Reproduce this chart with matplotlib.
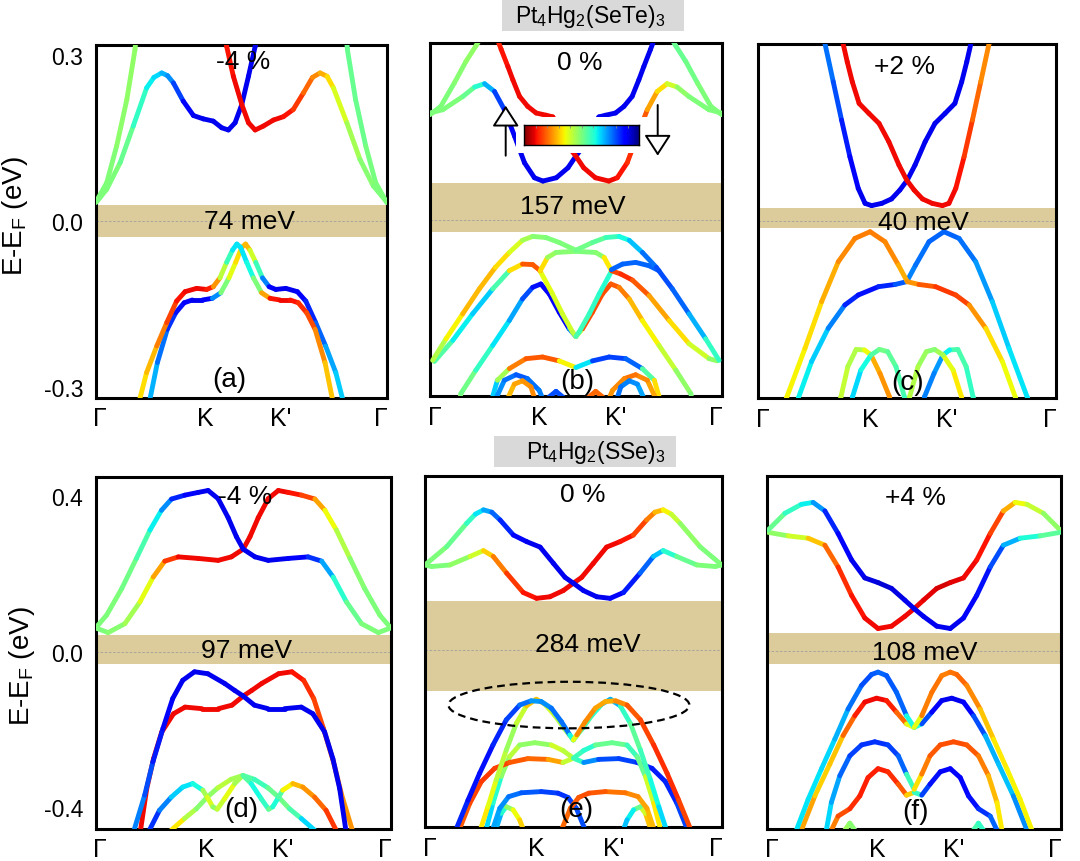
"""Spin-resolved band structures of Pt4Hg2(SeTe)3 and Pt4Hg2(SSe)3 under strain."""

import matplotlib

matplotlib.use("Agg")

import matplotlib.pyplot as plt
import numpy as np
from matplotlib.collections import LineCollection
from matplotlib.colors import Normalize
from matplotlib.patches import Ellipse, FancyArrowPatch, Rectangle

# ---------------------------------------------------------------------------
# data: each band is a list of (k along path, E - E_F [eV], spin polarisation)
# k runs 0 (Gamma) -> 1 (Gamma); spin +1 = up (red), -1 = down (blue)
# ---------------------------------------------------------------------------
KLABELS = ["\u0393", "K", "K'", "\u0393"]
COMPOUNDS = ["Pt$_4$Hg$_2$(SeTe)$_3$", "Pt$_4$Hg$_2$(SSe)$_3$"]
STRAIN = ["-4 %", "0 %", "+2 %", "-4 %", "0 %", "+4 %"]
TAGS = ["(a)", "(b)", "(c)", "(d)", "(e)", "(f)"]
GAP_MEV = [74, 157, 40, 97, 284, 108]
GAP_WIN = [(-0.029, 0.029), (-0.022, 0.066), (-0.012, 0.023),
           (-0.031, 0.042), (-0.106, 0.127), (-0.033, 0.047)]

# ---- (a) SeTe, -4 % ----
A_CB_DN = [(0.003, 0.035, 0.0), (0.038, 0.058, 0.0), (0.084, 0.106, 0.0), (0.129, 0.172, -0.1),
           (0.175, 0.241, -0.25), (0.200, 0.260, -0.3), (0.227, 0.268, -0.35), (0.247, 0.263, -0.45),
           (0.267, 0.250, -0.5), (0.301, 0.217, -0.75),
           (0.336, 0.191, -0.8), (0.370, 0.185, -0.8), (0.404, 0.181, -0.8), (0.433, 0.169, -0.8),
           (0.456, 0.165, -0.8), (0.479, 0.178, -0.8), (0.502, 0.211, -0.8), (0.525, 0.262, -0.8),
           (0.548, 0.316, -0.8), (0.559, 0.346, -0.8)]
A_CB_UP = [(0.440, 0.346, 0.75), (0.450, 0.316, 0.75), (0.473, 0.262, 0.8), (0.502, 0.211, 0.8),
           (0.525, 0.178, 0.8), (0.548, 0.165, 0.8), (0.576, 0.172, 0.8), (0.611, 0.183, 0.8),
           (0.645, 0.189, 0.8), (0.679, 0.202, 0.75), (0.714, 0.232, 0.65), (0.745, 0.260, 0.55),
           (0.771, 0.268, 0.5), (0.795, 0.262, 0.4),
           (0.817, 0.241, 0.3), (0.863, 0.178, 0.15), (0.908, 0.112, 0.05), (0.954, 0.064, 0.0),
           (1.0, 0.035, 0.0)]
A_CB_OUT_L = [(0.0, 0.034, 0.0), (0.038, 0.070, 0.0), (0.072, 0.136, 0.03), (0.107, 0.220, 0.05),
              (0.135, 0.310, 0.05), (0.141, 0.346, 0.05)]
A_CB_OUT_R = [(0.859, 0.346, -0.05), (0.865, 0.310, -0.05), (0.893, 0.220, -0.05),
              (0.928, 0.136, -0.03), (0.962, 0.070, 0.0), (1.0, 0.034, 0.0)]
A_VB_1 = [(0.147, -0.330, 0.35), (0.175, -0.273, 0.35), (0.210, -0.225, 0.5), (0.244, -0.183, 0.6),
          (0.278, -0.144, 0.75), (0.307, -0.127, 0.8), (0.347, -0.121, 0.8), (0.381, -0.123, 0.8),
          (0.404, -0.118, 0.7), (0.427, -0.102, 0.3), (0.450, -0.074, 0.0), (0.470, -0.052, -0.3),
          (0.485, -0.041, -0.3), (0.498, -0.047, -0.3), (0.519, -0.074, -0.3), (0.542, -0.102, -0.2),
          (0.570, -0.129, 0.2), (0.599, -0.139, 0.75), (0.633, -0.142, 0.8), (0.668, -0.142, 0.8),
          (0.696, -0.147, 0.75), (0.725, -0.165, 0.7), (0.754, -0.195, 0.6), (0.788, -0.255, 0.45),
          (0.817, -0.330, 0.35)]
A_VB_2 = [(0.183, -0.330, -0.35), (0.212, -0.255, -0.45), (0.246, -0.195, -0.6), (0.275, -0.165, -0.7),
          (0.304, -0.147, -0.75), (0.332, -0.142, -0.8), (0.367, -0.142, -0.8), (0.401, -0.139, -0.75),
          (0.430, -0.129, -0.2), (0.458, -0.102, 0.2), (0.481, -0.074, 0.3), (0.502, -0.047, 0.4),
          (0.515, -0.041, 0.45), (0.530, -0.052, 0.4), (0.550, -0.074, 0.0), (0.573, -0.102, -0.3),
          (0.596, -0.118, -0.7), (0.619, -0.123, -0.8), (0.653, -0.121, -0.8), (0.693, -0.127, -0.8),
          (0.722, -0.144, -0.75), (0.756, -0.183, -0.6), (0.790, -0.225, -0.5), (0.825, -0.273, -0.35),
          (0.853, -0.330, -0.35)]

# ---- (b) SeTe, 0 % ----
B_CB_DN = [(0.0, 0.193, 0.0), (0.044, 0.199, 0.0), (0.113, 0.223, 0.0), (0.153, 0.240, -0.1),
           (0.187, 0.246, -0.3), (0.221, 0.232, -0.5), (0.255, 0.199, -0.75), (0.290, 0.151, -0.8),
           (0.324, 0.103, -0.8), (0.358, 0.076, -0.8), (0.387, 0.070, -0.8), (0.433, 0.076, -0.8),
           (0.473, 0.094, -0.8), (0.5, 0.115, -0.8), (0.522, 0.130, -0.8), (0.545, 0.157, -0.8),
           (0.579, 0.186, -0.8), (0.602, 0.189, -0.8), (0.636, 0.193, -0.8), (0.665, 0.205, -0.8),
           (0.693, 0.223, -0.8), (0.716, 0.253, -0.8), (0.733, 0.277, -0.8), (0.756, 0.308, -0.8),
           (0.773, 0.332, -0.8)]
B_CB_UP = [(0.227, 0.332, 0.75), (0.244, 0.308, 0.75), (0.267, 0.277, 0.8), (0.284, 0.253, 0.8),
           (0.307, 0.223, 0.8), (0.335, 0.205, 0.8), (0.364, 0.193, 0.8), (0.398, 0.189, 0.8),
           (0.421, 0.186, 0.8), (0.455, 0.157, 0.8), (0.478, 0.130, 0.8), (0.5, 0.115, 0.8),
           (0.527, 0.094, 0.8), (0.567, 0.076, 0.8), (0.613, 0.070, 0.8), (0.642, 0.076, 0.8),
           (0.676, 0.103, 0.75), (0.710, 0.151, 0.7), (0.745, 0.199, 0.55), (0.779, 0.232, 0.4),
           (0.813, 0.246, 0.3), (0.847, 0.240, 0.1), (0.887, 0.223, 0.0), (0.956, 0.199, 0.0),
           (1.0, 0.193, 0.0)]
B_CB_OUT_L = [(0.0, 0.190, 0.0), (0.037, 0.205, 0.0), (0.083, 0.247, 0.0), (0.123, 0.286, 0.05),
              (0.157, 0.314, 0.05), (0.174, 0.329, 0.05)]
B_CB_OUT_R = [(0.826, 0.329, -0.05), (0.843, 0.314, -0.05), (0.877, 0.286, -0.05),
              (0.917, 0.247, 0.0), (0.963, 0.205, 0.0), (1.0, 0.190, 0.0)]
B_VB_TOP = [(0.009, -0.254, 0.05), (0.055, -0.215, 0.2), (0.112, -0.170, 0.4), (0.169, -0.125, 0.45),
            (0.224, -0.086, 0.4), (0.272, -0.059, 0.3), (0.317, -0.037, 0.15), (0.352, -0.030, 0.05),
            (0.397, -0.032, 0.0), (0.443, -0.041, 0.0), (0.5, -0.055, 0.0), (0.557, -0.041, -0.05),
            (0.603, -0.032, -0.1), (0.648, -0.030, -0.2), (0.683, -0.037, -0.3), (0.728, -0.059, -0.45),
            (0.776, -0.086, -0.6), (0.831, -0.125, -0.6), (0.888, -0.170, -0.5), (0.945, -0.215, -0.3),
            (0.991, -0.254, -0.05)]
B_VB_S = [(0.015, -0.256, 0.0), (0.078, -0.218, -0.2), (0.146, -0.170, -0.35), (0.215, -0.125, -0.35),
          (0.272, -0.092, 0.1), (0.317, -0.080, 0.6), (0.352, -0.081, 0.65), (0.378, -0.092, 0.6),
          (0.403, -0.068, 0.1), (0.432, -0.059, 0.05), (0.5, -0.057, 0.0), (0.568, -0.059, 0.0),
          (0.597, -0.068, 0.05), (0.622, -0.092, 0.6), (0.654, -0.098, 0.75), (0.694, -0.109, 0.7),
          (0.751, -0.137, 0.55), (0.820, -0.182, 0.4), (0.888, -0.224, 0.3), (0.957, -0.251, 0.1),
          (0.985, -0.255, 0.0)]
B_VB_M = [(0.100, -0.330, 0.05), (0.106, -0.314, 0.05), (0.157, -0.272, -0.1), (0.215, -0.227, -0.25),
          (0.272, -0.182, -0.35), (0.317, -0.143, -0.5), (0.352, -0.122, -0.7), (0.380, -0.116, -0.75),
          (0.409, -0.134, -0.75), (0.443, -0.167, -0.75), (0.477, -0.197, -0.75), (0.5, -0.211, -0.2),
          (0.523, -0.197, 0.65), (0.557, -0.167, 0.65), (0.591, -0.134, 0.65), (0.620, -0.116, 0.65),
          (0.648, -0.122, 0.6), (0.683, -0.143, 0.5), (0.728, -0.182, 0.35), (0.785, -0.227, 0.25),
          (0.843, -0.272, 0.1), (0.894, -0.314, 0.0), (0.900, -0.330, 0.0)]
B_VB_ARM_L = [(0.378, -0.093, 0.25), (0.420, -0.134, 0.25), (0.454, -0.170, 0.2),
              (0.489, -0.203, 0.2), (0.5, -0.211, 0.1)]
B_VB_ARM_R = [(0.5, -0.211, -0.1), (0.511, -0.203, -0.15), (0.546, -0.170, -0.15),
              (0.580, -0.134, -0.2), (0.622, -0.093, -0.2)]
B_VB_LINK = [(0.622, -0.090, -0.55), (0.660, -0.080, -0.55), (0.705, -0.077, -0.55),
             (0.751, -0.083, -0.55), (0.785, -0.092, -0.55)]
B_LOW_1 = [(0.209, -0.330, -0.4), (0.231, -0.290, -0.3), (0.272, -0.269, 0.5), (0.329, -0.251, 0.6),
           (0.386, -0.248, 0.65), (0.443, -0.255, 0.6), (0.5, -0.267, 0.0), (0.557, -0.255, -0.6),
           (0.614, -0.248, -0.65), (0.671, -0.251, -0.6), (0.728, -0.269, -0.5), (0.769, -0.290, 0.3),
           (0.791, -0.330, 0.4)]
B_LOW_2L = [(0.220, -0.330, -0.5), (0.255, -0.290, -0.45), (0.295, -0.280, -0.6),
            (0.334, -0.287, -0.55), (0.374, -0.308, -0.5), (0.392, -0.330, -0.5)]
B_LOW_2R = [(0.780, -0.330, 0.5), (0.745, -0.290, 0.45), (0.705, -0.280, 0.6),
            (0.666, -0.287, 0.55), (0.626, -0.308, 0.5), (0.608, -0.330, 0.5)]
B_LOW_3L = [(0.260, -0.330, 0.4), (0.289, -0.297, 0.45), (0.317, -0.291, 0.5),
            (0.346, -0.302, 0.5), (0.363, -0.330, 0.55)]
B_LOW_3R = [(0.740, -0.330, -0.4), (0.711, -0.297, -0.45), (0.683, -0.291, -0.5),
            (0.654, -0.302, -0.5), (0.637, -0.330, -0.55)]
B_LOW_4L = [(0.397, -0.325, -0.6), (0.432, -0.310, -0.6), (0.466, -0.325, -0.6)]
B_LOW_4R = [(0.534, -0.325, 0.6), (0.568, -0.310, 0.6), (0.603, -0.325, 0.6)]

# ---- (c) SeTe, +2 % ----
C_CB_DN = [(0.220, 0.340, -0.5), (0.224, 0.320, -0.5), (0.252, 0.251, -0.55), (0.280, 0.182, -0.65),
           (0.308, 0.116, -0.75), (0.336, 0.059, -0.8), (0.359, 0.032, -0.8), (0.381, 0.028, -0.8),
           (0.415, 0.032, -0.8), (0.448, 0.040, -0.8), (0.476, 0.056, -0.8), (0.501, 0.074, -0.8),
           (0.527, 0.101, -0.8), (0.561, 0.143, -0.8), (0.594, 0.176, -0.8), (0.628, 0.194, -0.8),
           (0.661, 0.212, -0.8), (0.684, 0.251, -0.8), (0.701, 0.287, -0.8), (0.715, 0.320, -0.8),
           (0.720, 0.340, -0.8)]
C_CB_UP = [(0.280, 0.340, 0.8), (0.285, 0.320, 0.8), (0.299, 0.287, 0.8), (0.316, 0.251, 0.8),
           (0.339, 0.212, 0.8), (0.372, 0.194, 0.8), (0.406, 0.176, 0.8), (0.439, 0.143, 0.8),
           (0.473, 0.101, 0.8), (0.499, 0.074, 0.8), (0.524, 0.056, 0.8), (0.552, 0.040, 0.8),
           (0.585, 0.032, 0.8), (0.619, 0.028, 0.8), (0.641, 0.032, 0.8), (0.664, 0.059, 0.8),
           (0.692, 0.116, 0.75), (0.720, 0.182, 0.65), (0.748, 0.251, 0.55), (0.776, 0.320, 0.5),
           (0.780, 0.340, 0.5)]
C_VB_1 = [(0.090, -0.330, 0.3), (0.095, -0.318, 0.3), (0.157, -0.229, 0.3), (0.213, -0.145, 0.4),
          (0.269, -0.073, 0.5), (0.325, -0.031, 0.55), (0.376, -0.019, 0.55), (0.426, -0.037, 0.55),
          (0.471, -0.079, 0.5), (0.501, -0.109, 0.4), (0.540, -0.114, 0.6), (0.596, -0.118, 0.65),
          (0.664, -0.133, 0.75), (0.709, -0.151, 0.6), (0.765, -0.193, 0.4), (0.821, -0.253, 0.3),
          (0.865, -0.318, 0.25), (0.870, -0.330, 0.25)]
C_VB_2 = [(0.130, -0.330, -0.25), (0.135, -0.318, -0.25), (0.179, -0.253, -0.3), (0.235, -0.193, -0.4),
          (0.291, -0.151, -0.6), (0.336, -0.133, -0.75), (0.404, -0.118, -0.7), (0.460, -0.114, -0.65),
          (0.499, -0.109, -0.5), (0.529, -0.079, -0.5), (0.574, -0.037, -0.55), (0.624, -0.019, -0.55),
          (0.675, -0.031, -0.55), (0.731, -0.073, -0.5), (0.787, -0.145, -0.4), (0.843, -0.229, -0.3),
          (0.905, -0.318, -0.3), (0.910, -0.330, -0.3)]
C_LOW_1L = [(0.272, -0.330, 0.2), (0.278, -0.316, 0.2), (0.301, -0.262, 0.15), (0.329, -0.231, 0.1),
            (0.357, -0.232, 0.15), (0.379, -0.241, 0.4), (0.409, -0.274, 0.5), (0.441, -0.316, 0.5),
            (0.446, -0.330, 0.5)]
C_LOW_2L = [(0.312, -0.330, -0.35), (0.317, -0.316, -0.35), (0.345, -0.268, -0.3), (0.379, -0.241, -0.2),
            (0.407, -0.231, 0.0), (0.435, -0.235, -0.05), (0.463, -0.262, -0.1), (0.491, -0.316, -0.15),
            (0.495, -0.330, -0.15)]
C_LOW_1R = [(0.728, -0.330, -0.2), (0.722, -0.316, -0.2), (0.699, -0.262, -0.15), (0.671, -0.231, -0.1),
            (0.643, -0.232, -0.15), (0.621, -0.241, -0.4), (0.591, -0.274, -0.5), (0.559, -0.316, -0.5),
            (0.554, -0.330, -0.5)]
C_LOW_2R = [(0.688, -0.330, 0.35), (0.683, -0.316, 0.35), (0.655, -0.268, 0.3), (0.621, -0.241, 0.2),
            (0.593, -0.231, 0.0), (0.565, -0.235, 0.05), (0.537, -0.262, 0.1), (0.509, -0.316, 0.15),
            (0.505, -0.330, 0.15)]

# ---- (d) SSe, -4 % ----
D_CB_DN = [(0.0, 0.061, 0.0), (0.037, 0.094, 0.0), (0.088, 0.162, 0.0), (0.138, 0.240, -0.05),
           (0.184, 0.313, -0.2), (0.223, 0.364, -0.35), (0.257, 0.393, -0.6), (0.302, 0.403, -0.75),
           (0.347, 0.410, -0.8), (0.381, 0.415, -0.8), (0.415, 0.394, -0.8), (0.449, 0.345, -0.8),
           (0.477, 0.296, -0.8), (0.5, 0.264, -0.8), (0.540, 0.244, -0.8), (0.585, 0.235, -0.8),
           (0.653, 0.240, -0.8), (0.720, 0.244, -0.75), (0.766, 0.233, -0.55), (0.805, 0.192, -0.3),
           (0.850, 0.128, -0.1), (0.901, 0.072, 0.0), (0.958, 0.049, 0.0), (1.0, 0.061, 0.0)]
D_CB_UP = [(0.0, 0.061, 0.0), (0.042, 0.049, 0.0), (0.099, 0.072, 0.05), (0.150, 0.128, 0.15),
           (0.195, 0.192, 0.35), (0.234, 0.233, 0.6), (0.280, 0.244, 0.8), (0.347, 0.240, 0.8),
           (0.415, 0.235, 0.8), (0.460, 0.244, 0.8), (0.5, 0.264, 0.8), (0.523, 0.296, 0.8),
           (0.551, 0.345, 0.8), (0.585, 0.394, 0.8), (0.619, 0.415, 0.8), (0.653, 0.410, 0.8),
           (0.698, 0.403, 0.75), (0.743, 0.393, 0.6), (0.777, 0.364, 0.35), (0.816, 0.313, 0.2),
           (0.862, 0.240, 0.05), (0.912, 0.162, 0.0), (0.963, 0.094, 0.0), (1.0, 0.061, 0.0)]
D_VB_DN = [(0.130, -0.460, -0.45), (0.166, -0.370, -0.55), (0.194, -0.284, -0.65), (0.228, -0.198, -0.75),
           (0.261, -0.121, -0.8), (0.295, -0.074, -0.8), (0.335, -0.052, -0.8), (0.380, -0.057, -0.8),
           (0.437, -0.082, -0.8), (0.471, -0.100, -0.8), (0.499, -0.114, -0.8), (0.538, -0.138, -0.8),
           (0.584, -0.147, -0.8), (0.640, -0.147, -0.8), (0.697, -0.143, -0.8), (0.736, -0.160, -0.8),
           (0.776, -0.207, -0.8), (0.804, -0.276, -0.8), (0.827, -0.353, -0.8), (0.848, -0.460, -0.8)]
D_VB_UP = [(0.152, -0.460, 0.8), (0.173, -0.353, 0.8), (0.196, -0.276, 0.8), (0.224, -0.207, 0.8),
           (0.264, -0.160, 0.8), (0.303, -0.143, 0.8), (0.360, -0.147, 0.8), (0.416, -0.147, 0.8),
           (0.462, -0.138, 0.8), (0.501, -0.114, 0.8), (0.529, -0.100, 0.8), (0.563, -0.082, 0.8),
           (0.620, -0.057, 0.8), (0.665, -0.052, 0.8), (0.705, -0.074, 0.75), (0.739, -0.121, 0.7),
           (0.772, -0.198, 0.65), (0.806, -0.284, 0.6), (0.834, -0.370, 0.55), (0.870, -0.460, 0.45)]
D_LOW_1 = [(0.182, -0.460, -0.7), (0.216, -0.409, -0.6), (0.256, -0.375, -0.4), (0.295, -0.349, -0.3),
           (0.329, -0.340, -0.3), (0.363, -0.357, -0.2), (0.378, -0.375, 0.4), (0.397, -0.400, 0.05),
           (0.412, -0.406, 0.05), (0.437, -0.379, 0.3), (0.471, -0.340, 0.2), (0.499, -0.319, 0.0),
           (0.527, -0.340, -0.2), (0.561, -0.379, -0.3), (0.586, -0.406, -0.05), (0.600, -0.400, -0.05),
           (0.620, -0.375, -0.4), (0.634, -0.357, 0.2), (0.668, -0.340, 0.4), (0.702, -0.349, 0.45),
           (0.742, -0.375, 0.55), (0.781, -0.409, 0.65), (0.815, -0.460, 0.75)]
D_LOW_2 = [(0.256, -0.460, 0.45), (0.301, -0.430, 0.2), (0.341, -0.405, 0.05), (0.378, -0.375, 0.0),
           (0.414, -0.351, 0.1), (0.459, -0.329, 0.2), (0.499, -0.319, 0.0), (0.538, -0.329, -0.2),
           (0.584, -0.351, -0.1), (0.620, -0.375, 0.0), (0.657, -0.405, -0.05), (0.697, -0.430, -0.2),
           (0.742, -0.460, -0.45)]

# ---- (e) SSe, 0 % ----
E_CB_DN = [(0.0, 0.219, 0.0), (0.073, 0.266, 0.0), (0.140, 0.326, -0.1), (0.170, 0.350, -0.25),
           (0.197, 0.361, -0.35), (0.225, 0.355, -0.5),
           (0.253, 0.335, -0.6), (0.298, 0.296, -0.75), (0.343, 0.279, -0.8), (0.388, 0.265, -0.8),
           (0.433, 0.223, -0.8), (0.472, 0.187, -0.8), (0.5, 0.172, -0.8), (0.534, 0.153, -0.8),
           (0.579, 0.137, -0.8), (0.624, 0.133, -0.8), (0.669, 0.148, -0.75), (0.725, 0.198, -0.65),
           (0.770, 0.241, -0.45), (0.803, 0.256, -0.3), (0.848, 0.241, -0.1), (0.916, 0.219, 0.0),
           (0.978, 0.215, 0.0), (1.0, 0.219, 0.0)]
E_CB_UP = [(0.0, 0.219, 0.0), (0.022, 0.215, 0.0), (0.084, 0.219, 0.0), (0.152, 0.241, 0.1),
           (0.197, 0.256, 0.3), (0.230, 0.241, 0.45), (0.275, 0.198, 0.65), (0.331, 0.148, 0.75),
           (0.376, 0.133, 0.8), (0.421, 0.137, 0.8), (0.466, 0.153, 0.8), (0.5, 0.172, 0.8),
           (0.528, 0.187, 0.8), (0.567, 0.223, 0.8), (0.612, 0.265, 0.8), (0.657, 0.279, 0.8),
           (0.702, 0.296, 0.75), (0.747, 0.335, 0.6), (0.775, 0.355, 0.5), (0.803, 0.361, 0.35),
           (0.830, 0.350, 0.25), (0.860, 0.326, 0.1),
           (0.927, 0.266, 0.0), (1.0, 0.219, 0.0)]
E_VB_T1 = [(0.106, -0.46, -0.65), (0.145, -0.387, -0.7), (0.184, -0.318, -0.75), (0.229, -0.245, -0.7),
           (0.274, -0.180, -0.65), (0.319, -0.142, -0.6), (0.358, -0.131, -0.45), (0.392, -0.133, -0.45),
           (0.426, -0.150, -0.5), (0.460, -0.185, -0.55), (0.488, -0.219, -0.5), (0.5, -0.232, 0.0),
           (0.512, -0.219, 0.5), (0.540, -0.185, 0.55), (0.574, -0.150, 0.5), (0.608, -0.133, 0.45),
           (0.642, -0.131, 0.45), (0.681, -0.142, 0.6), (0.726, -0.180, 0.65), (0.771, -0.245, 0.7),
           (0.816, -0.318, 0.75), (0.855, -0.387, 0.7), (0.894, -0.46, 0.65)]
E_VB_T2 = [(0.188, -0.46, 0.35), (0.212, -0.404, 0.3), (0.240, -0.335, 0.2), (0.274, -0.258, 0.1),
           (0.308, -0.189, 0.05), (0.342, -0.144, 0.3), (0.375, -0.127, 0.5), (0.403, -0.139, 0.3),
           (0.437, -0.168, 0.1), (0.471, -0.204, 0.15), (0.5, -0.232, 0.0), (0.529, -0.204, -0.15),
           (0.563, -0.168, -0.1), (0.597, -0.139, -0.3), (0.625, -0.127, -0.5), (0.658, -0.144, -0.3),
           (0.692, -0.189, -0.05), (0.726, -0.258, -0.1), (0.760, -0.335, -0.2), (0.788, -0.404, -0.3),
           (0.812, -0.46, -0.35)]
E_VB_M1 = [(0.117, -0.46, 0.6), (0.151, -0.395, 0.65), (0.190, -0.339, 0.7), (0.235, -0.305, 0.7),
           (0.285, -0.290, 0.65), (0.347, -0.280, 0.6), (0.415, -0.282, 0.6), (0.465, -0.290, 0.35),
           (0.5, -0.279, 0.0), (0.535, -0.259, -0.3), (0.574, -0.245, -0.1), (0.630, -0.239, 0.0),
           (0.681, -0.245, -0.1), (0.715, -0.275, -0.2), (0.743, -0.326, 0.1), (0.771, -0.395, 0.3),
           (0.793, -0.46, 0.35)]
E_VB_M2 = [(0.207, -0.46, -0.35), (0.229, -0.395, -0.3), (0.257, -0.326, -0.1), (0.285, -0.275, 0.2),
           (0.319, -0.245, 0.1), (0.370, -0.239, 0.0), (0.426, -0.245, 0.1), (0.465, -0.259, 0.3),
           (0.5, -0.279, 0.0), (0.535, -0.290, -0.35), (0.585, -0.282, -0.6), (0.653, -0.280, -0.6),
           (0.715, -0.290, -0.65), (0.765, -0.305, -0.7), (0.810, -0.339, -0.7), (0.849, -0.395, -0.65),
           (0.883, -0.46, -0.6)]
E_VB_L1 = [(0.229, -0.46, -0.4), (0.252, -0.408, -0.45), (0.282, -0.378, -0.5), (0.325, -0.368, -0.55),
           (0.392, -0.365, -0.6), (0.448, -0.369, -0.65), (0.482, -0.380, -0.65), (0.510, -0.408, -0.6),
           (0.538, -0.46, -0.6)]
E_VB_L2 = [(0.771, -0.46, 0.4), (0.748, -0.408, 0.45), (0.718, -0.378, 0.5), (0.675, -0.368, 0.55),
           (0.608, -0.365, 0.6), (0.552, -0.369, 0.65), (0.518, -0.380, 0.65), (0.490, -0.408, 0.6),
           (0.462, -0.46, 0.6)]
E_ARCH_L = [(0.240, -0.46, -0.5), (0.257, -0.421, -0.3), (0.274, -0.404, -0.1), (0.297, -0.412, 0.2),
            (0.319, -0.438, 0.35), (0.330, -0.46, 0.4)]
E_ARCH_R = [(0.760, -0.46, 0.5), (0.743, -0.421, 0.3), (0.726, -0.404, 0.1), (0.703, -0.412, -0.2),
            (0.681, -0.438, -0.35), (0.670, -0.46, -0.4)]

# ---- (f) SSe, +4 % ----
F_CB_DN = [(0.003, 0.311, 0.0), (0.060, 0.354, -0.1), (0.116, 0.377, -0.25), (0.156, 0.382, -0.3),
           (0.196, 0.360, -0.6), (0.241, 0.302, -0.75), (0.287, 0.234, -0.8), (0.332, 0.188, -0.8),
           (0.377, 0.176, -0.85), (0.423, 0.161, -0.85), (0.468, 0.131, -0.8), (0.5, 0.109, -0.8),
           (0.532, 0.089, -0.8), (0.577, 0.064, -0.8), (0.623, 0.058, -0.8), (0.668, 0.085, -0.8),
           (0.713, 0.143, -0.75), (0.759, 0.216, -0.7), (0.804, 0.272, -0.5), (0.861, 0.290, -0.3),
           (0.929, 0.296, -0.15), (0.997, 0.305, 0.0)]
F_CB_UP = [(0.003, 0.305, 0.0), (0.071, 0.296, 0.1), (0.139, 0.290, 0.3), (0.196, 0.272, 0.5),
           (0.241, 0.216, 0.7), (0.287, 0.143, 0.75), (0.332, 0.085, 0.8), (0.377, 0.058, 0.8),
           (0.423, 0.064, 0.8), (0.468, 0.089, 0.8), (0.5, 0.109, 0.8), (0.532, 0.131, 0.8),
           (0.577, 0.161, 0.85), (0.623, 0.176, 0.85), (0.668, 0.188, 0.8), (0.713, 0.234, 0.8),
           (0.759, 0.302, 0.75), (0.804, 0.360, 0.6), (0.844, 0.382, 0.3), (0.884, 0.377, 0.25),
           (0.940, 0.354, 0.1), (0.997, 0.311, 0.0)]
F_VB_1 = [(0.099, -0.46, -0.3), (0.139, -0.381, -0.3), (0.184, -0.303, -0.3), (0.230, -0.226, -0.35),
          (0.275, -0.149, -0.45), (0.321, -0.088, -0.6), (0.355, -0.060, -0.6), (0.377, -0.054, -0.55),
          (0.406, -0.063, -0.55), (0.440, -0.106, -0.6), (0.474, -0.166, -0.5), (0.5, -0.196, 0.0),
          (0.526, -0.166, 0.5), (0.560, -0.106, 0.6), (0.594, -0.063, 0.55), (0.623, -0.054, 0.55),
          (0.645, -0.060, 0.6), (0.679, -0.088, 0.6), (0.725, -0.149, 0.45), (0.770, -0.226, 0.35),
          (0.816, -0.303, 0.3), (0.861, -0.381, 0.3), (0.901, -0.46, 0.3)]
F_VB_2 = [(0.116, -0.46, 0.5), (0.162, -0.372, 0.45), (0.213, -0.290, 0.3), (0.258, -0.217, 0.5),
          (0.298, -0.166, 0.7), (0.332, -0.131, 0.8), (0.372, -0.121, 0.8), (0.406, -0.127, 0.8),
          (0.440, -0.157, 0.7), (0.474, -0.187, 0.5), (0.5, -0.196, 0.0), (0.526, -0.187, -0.5),
          (0.560, -0.157, -0.7), (0.594, -0.127, -0.8), (0.628, -0.121, -0.8), (0.668, -0.131, -0.8),
          (0.702, -0.166, -0.7), (0.742, -0.217, -0.5), (0.787, -0.290, -0.3), (0.838, -0.372, -0.45),
          (0.884, -0.46, -0.5)]
F_VB_3 = [(0.201, -0.46, -0.3), (0.218, -0.389, -0.35), (0.247, -0.320, -0.5), (0.281, -0.269, -0.6),
          (0.321, -0.241, -0.65), (0.366, -0.233, -0.65), (0.411, -0.241, -0.65), (0.446, -0.269, -0.6),
          (0.474, -0.316, -0.5), (0.5, -0.355, 0.2), (0.526, -0.316, 0.5), (0.554, -0.269, 0.6),
          (0.589, -0.241, 0.65), (0.634, -0.233, 0.65), (0.679, -0.241, 0.65), (0.719, -0.269, 0.6),
          (0.753, -0.320, 0.5), (0.782, -0.389, 0.35), (0.799, -0.46, 0.3)]
F_VB_4 = [(0.218, -0.46, 0.5), (0.241, -0.424, 0.6), (0.281, -0.405, 0.7), (0.315, -0.372, 0.75),
          (0.343, -0.325, 0.75), (0.377, -0.302, 0.75), (0.411, -0.310, 0.75), (0.446, -0.342, 0.7),
          (0.474, -0.370, 0.55), (0.5, -0.363, 0.2), (0.526, -0.370, -0.55), (0.554, -0.342, -0.7),
          (0.589, -0.310, -0.75), (0.623, -0.302, -0.75), (0.657, -0.325, -0.75), (0.685, -0.372, -0.75),
          (0.719, -0.405, -0.7), (0.759, -0.424, -0.6), (0.782, -0.46, -0.5)]
F_ARC_L = [(0.264, -0.46, 0.1), (0.281, -0.442, 0.05), (0.298, -0.46, 0.0)]
F_ARC_R = [(0.702, -0.46, -0.1), (0.719, -0.442, -0.15), (0.736, -0.46, -0.2)]

PANEL_BANDS = [
    [A_CB_OUT_L, A_CB_OUT_R, A_CB_DN, A_CB_UP, A_VB_2, A_VB_1],
    [B_CB_OUT_L, B_CB_OUT_R, B_CB_DN, B_CB_UP, B_LOW_1, B_LOW_2L, B_LOW_2R, B_LOW_3L,
     B_LOW_3R, B_LOW_4L, B_LOW_4R, B_VB_M, B_VB_ARM_L, B_VB_ARM_R, B_VB_S, B_VB_LINK, B_VB_TOP],
    [C_CB_DN, C_CB_UP, C_LOW_1L, C_LOW_2L, C_LOW_1R, C_LOW_2R, C_VB_2, C_VB_1],
    [D_CB_UP, D_CB_DN, D_LOW_2, D_LOW_1, D_VB_UP, D_VB_DN],
    [E_CB_UP, E_CB_DN, E_ARCH_L, E_ARCH_R, E_VB_L1, E_VB_L2, E_VB_M2, E_VB_M1, E_VB_T2, E_VB_T1],
    [F_CB_UP, F_CB_DN, F_ARC_L, F_ARC_R, F_VB_4, F_VB_3, F_VB_2, F_VB_1],
]

# ---------------------------------------------------------------------------
# layout (pixel-matched to a 1080 x 862 canvas)
# ---------------------------------------------------------------------------
W, H = 1080, 862
AX_PX = [(95.7, 45.7, 291.0, 353.3), (430.0, 44.3, 291.7, 353.0), (758.3, 45.0, 297.4, 354.3),
         (95.7, 478.3, 295.0, 351.7), (425.0, 476.7, 296.7, 351.6), (767.3, 477.3, 293.7, 352.7)]
YLIM = [(-0.319, 0.319)] * 3 + [(-0.457, 0.449)] * 3
KLABEL_POS = [0.015, 0.375, 0.635, 0.98]
STRAIN_XY = [(0.506, 0.955), (0.514, 0.947), (0.493, 0.939), (0.506, 0.948), (0.533, 0.948), (0.503, 0.941)]
TAG_XY = [(0.46, 0.054), (0.504, 0.044), (0.503, 0.046), (0.495, 0.057), (0.511, 0.052), (0.503, 0.052)]
GAP_XY = [(0.527, 0.501), (0.491, 0.539), (0.554, 0.498), (0.512, 0.510), (0.549, 0.521), (0.537, 0.503)]

FONT = "Liberation Sans"
LW = 3.5
CMAP = plt.get_cmap("jet")
NORM = Normalize(vmin=-1.0, vmax=1.0)
GOLD = "#dccc9b"

plt.rcParams.update({
    "font.family": [FONT, "DejaVu Sans"],
    "mathtext.fontset": "custom",
    "mathtext.rm": FONT,
    "mathtext.it": FONT,
    "mathtext.bf": FONT,
})


def px_rect(x, y, w, h):
    return [x / W, 1 - (y + h) / H, w / W, h / H]


def draw_band(ax, band):
    arr = np.asarray(band, dtype=float)
    pts = arr[:, :2]
    segs = np.stack([pts[:-1], pts[1:]], axis=1)
    spin = 0.5 * (arr[:-1, 2] + arr[1:, 2])
    ax.add_collection(LineCollection(segs, colors=CMAP(NORM(spin)), linewidths=LW,
                                     capstyle="round", joinstyle="round", zorder=3))


fig = plt.figure(figsize=(W / 100, H / 100), dpi=100)
axes = []
for i in range(6):
    ax = fig.add_axes(px_rect(*AX_PX[i]))
    axes.append(ax)
    ax.set_xlim(0, 1)
    ax.set_ylim(*YLIM[i])
    lo, hi = GAP_WIN[i]
    ax.axhspan(lo, hi, color=GOLD, lw=0, zorder=1)
    ax.axhline(0.0, color="0.62", lw=0.6, ls=(0, (3, 2)), zorder=1.5)
    for band in PANEL_BANDS[i]:
        draw_band(ax, band)
    for s in ax.spines.values():
        s.set_linewidth(2.2)
    ax.set_xticks(KLABEL_POS, KLABELS)
    ax.tick_params(axis="x", length=0, pad=6, labelsize=18)
    if i % 3 == 0:
        yt = [-0.3, 0.0, 0.3] if i < 3 else [-0.4, 0.0, 0.4]
        ax.set_yticks(yt, [f"{v:.1f}" for v in yt])
        ax.tick_params(axis="y", length=0, pad=9, labelsize=16.5)
    else:
        ax.set_yticks([])
    ax.text(*STRAIN_XY[i], STRAIN[i], transform=ax.transAxes, ha="center", va="center",
            fontsize=19, zorder=6)
    ax.text(*TAG_XY[i], TAGS[i], transform=ax.transAxes, ha="center", va="center",
            fontsize=20, zorder=6)
    ax.text(*GAP_XY[i], f"{GAP_MEV[i]} meV", transform=ax.transAxes, ha="center", va="center",
            fontsize=19, zorder=6)

# y labels
fig.text(15 / W, 1 - 216 / H, "E-E$_{\\rm F}$ (eV)", rotation=90, ha="center", va="center", fontsize=20)
fig.text(22 / W, 1 - 666 / H, "E-E$_{\\rm F}$ (eV)", rotation=90, ha="center", va="center", fontsize=20)

# compound titles on grey boxes
for (bx, by, bw, bh), (tx, ty), name in zip([(502, 0, 182, 32), (494, 436.7, 182, 31)],
                                            [(590, 17), (596, 453)], COMPOUNDS):
    fig.patches.append(Rectangle((bx / W, 1 - (by + bh) / H), bw / W, bh / H,
                                 transform=fig.transFigure, fc="#d9d9d9", ec="none", zorder=0))
    fig.text(tx / W, 1 - ty / H, name, ha="center", va="center", fontsize=16.5)

# spin colour bar inside panel (b)
axes[1].add_patch(Rectangle((516 / W, 1 - 154 / H), 131 / W, 36 / H, transform=fig.transFigure,
                            fc="white", ec="none", zorder=5, clip_on=False))
cax = fig.add_axes(px_rect(524, 125.7, 115, 20))
cax.imshow(np.linspace(0, 1, 256)[None, :], aspect="auto", cmap="jet_r", extent=[0, 1, 0, 1])
cax.set_xticks(np.linspace(0.1, 0.9, 9))
cax.set_yticks([])
cax.tick_params(axis="x", direction="in", top=True, bottom=False, labelbottom=False,
                length=2.5, width=0.6, color="0.55")
for s in cax.spines.values():
    s.set_linewidth(1.0)

for (x0, y0), (x1, y1) in [((505.7, 156.7), (505.7, 106.7)), ((657.7, 106.0), (657.7, 156.7))]:
    fig.patches.append(FancyArrowPatch((x0 / W, 1 - y0 / H), (x1 / W, 1 - y1 / H),
                                       transform=fig.transFigure,
                                       arrowstyle="-|>,head_length=0.65,head_width=0.42",
                                       mutation_scale=20, fc="white", ec="black", lw=1.4,
                                       shrinkA=0, shrinkB=0, zorder=4))

# dashed ellipse highlighting the valence-band top in (e)
axes[4].add_patch(Ellipse((0.485, -0.142), 0.812, 0.120, fill=False, ec="black", lw=1.6,
                          ls=(0, (3.5, 2.2)), zorder=5))

fig.savefig("out.png", dpi=100)
